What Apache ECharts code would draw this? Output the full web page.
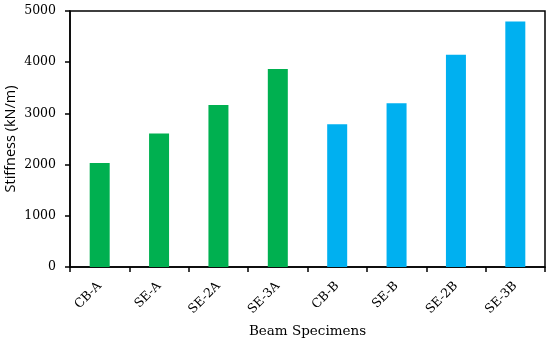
<!DOCTYPE html>
<html><head><meta charset="utf-8">
<script src="https://cdn.jsdelivr.net/npm/echarts@6/dist/echarts.min.js"></script>
<style>html,body{margin:0;padding:0;background:#fff}#c{width:550px;height:344px}</style>
</head><body><div id="c"></div>
<script>
const categories = ['CB-A','SE-A','SE-2A','SE-3A','CB-B','SE-B','SE-2B','SE-3B'];
const stiffness = [2030, 2605, 3165, 3865, 2790, 3200, 4145, 4795];
const groups = ['A','A','A','A','B','B','B','B'];
const yTicks = [0, 1000, 2000, 3000, 4000, 5000];
const groupColors = {A: '#00B050', B: '#00B0F0'};

const chart = echarts.init(document.getElementById('c'));
const serif = 'DejaVu Serif';
chart.setOption({
  animation: false,
  grid: {left: 70, right: 5, top: 11, bottom: 77, show: true, borderColor: '#000', borderWidth: 1.5,
         containLabel: false, outerBoundsMode: 'none'},
  xAxis: {
    type: 'category', data: categories,
    axisLine: {lineStyle: {color: '#000', width: 1.5}},
    axisTick: {show: true, length: 5, lineStyle: {color: '#000', width: 1.5}, alignWithLabel: false},
    axisLabel: {rotate: 45, color: '#000', fontFamily: serif, fontSize: 12.5, margin: 17, interval: 0},
    name: 'Beam Specimens', nameLocation: 'middle', nameGap: 57, nameMoveOverlap: false,
    nameTextStyle: {color: '#000', fontFamily: serif, fontSize: 13.5}
  },
  yAxis: {
    type: 'value', min: yTicks[0], max: yTicks[yTicks.length-1], interval: 1000,
    splitLine: {show: false},
    axisLine: {show: true, lineStyle: {color: '#000', width: 1.5}},
    axisTick: {show: true, length: 5, lineStyle: {color: '#000', width: 1.5}},
    axisLabel: {color: '#000', fontFamily: serif, fontSize: 12.5, margin: 14, formatter: v => String(v)},
    name: 'Stiffness (kN/m)', nameLocation: 'middle', nameGap: 52, nameRotate: 90, nameMoveOverlap: false,
    nameTextStyle: {color: '#000', fontFamily: 'Open Sans', fontSize: 14.5}
  },
  series: [{
    type: 'bar', barWidth: 20,
    data: stiffness.map((v, i) => ({value: v, itemStyle: {color: groupColors[groups[i]]}}))
  }]
});
</script></body></html>
